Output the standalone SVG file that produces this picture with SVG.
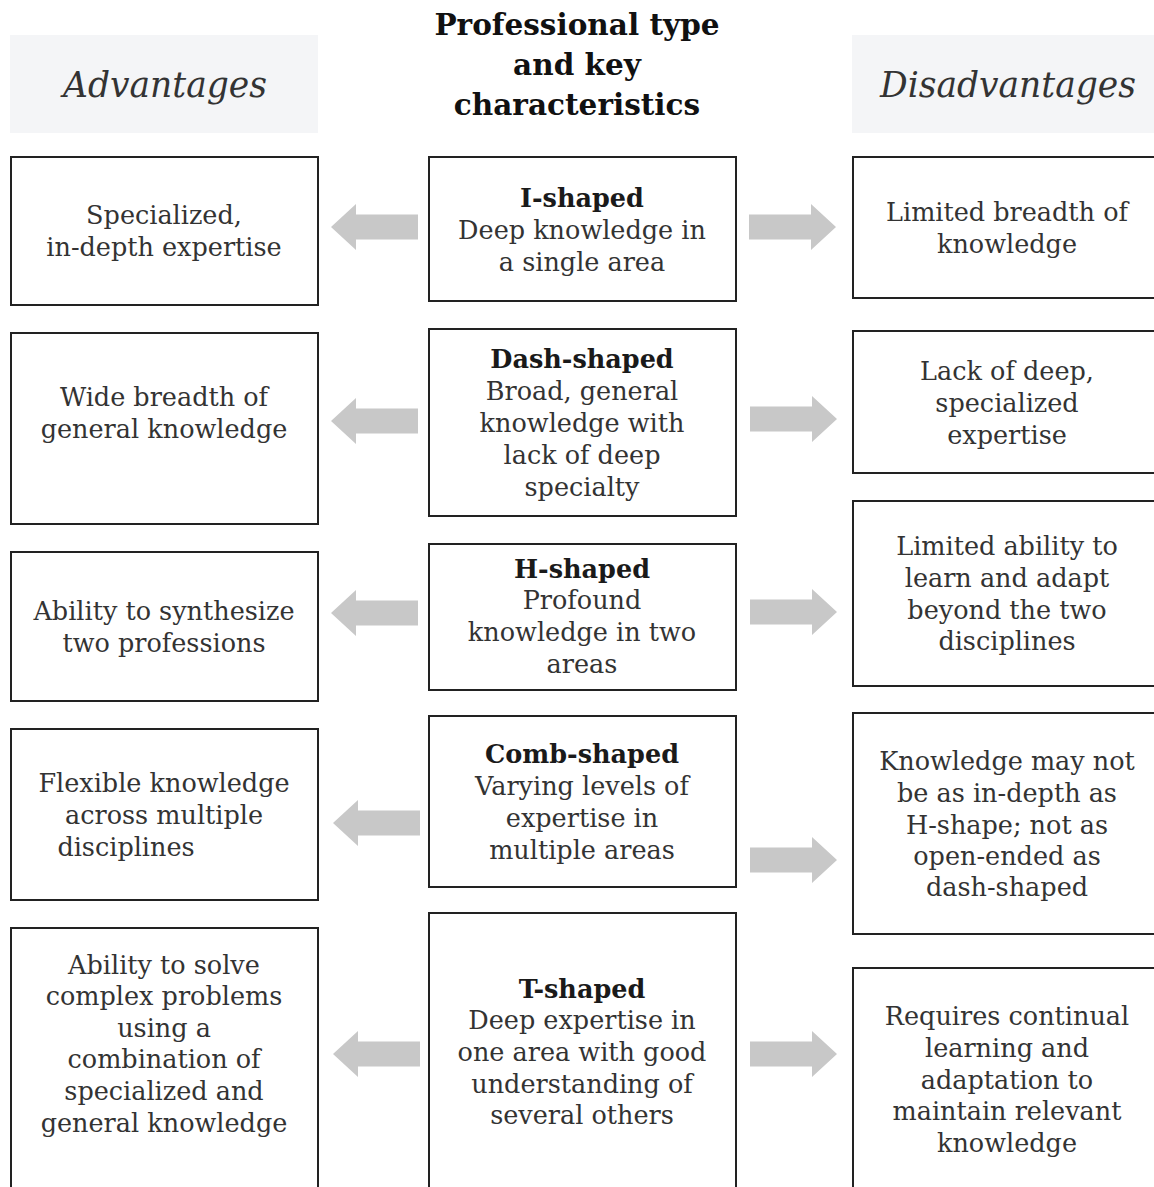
<svg xmlns="http://www.w3.org/2000/svg" width="1154" height="1187" viewBox="0 0 1154 1187">
<style>
.box{fill:#fff;stroke:#222;stroke-width:2}
.hdr{fill:#f4f5f7}
text{font-family:"DejaVu Serif","Liberation Serif",serif;font-size:25.5px;fill:#333;text-anchor:middle}
.b{font-weight:bold;fill:#1a1a1a}
.h{font-style:italic;font-size:34.5px;fill:#333}
.t{font-weight:bold;font-size:29.5px;fill:#111}
.arr{fill:#c8c8c8}
</style>
<defs>
<path id="la" d="M0,0 L25,-23 L25,-12.5 L87,-12.5 L87,12.5 L25,12.5 L25,23 Z"/>
</defs>
<rect width="1154" height="1187" fill="#fff"/>
<g id="title">
<text class="t" x="577" y="35">Professional type</text>
<text class="t" x="577" y="75">and key</text>
<text class="t" x="577" y="115">characteristics</text>
</g>
<g id="hdr-adv"><rect class="hdr" x="10" y="35" width="308" height="98"/><text class="h" x="165" y="97">Advantages</text></g>
<g id="hdr-dis"><rect class="hdr" x="852" y="35" width="310" height="98"/><text class="h" x="1008" y="97">Disadvantages</text></g>

<g id="adv1"><rect class="box" x="11" y="157" width="307" height="148"/>
<text x="164" y="224">Specialized,</text><text x="164" y="256">in-depth expertise</text></g>
<g id="adv2"><rect class="box" x="11" y="333" width="307" height="191"/>
<text x="164" y="406">Wide breadth of</text><text x="164" y="438">general knowledge</text></g>
<g id="adv3"><rect class="box" x="11" y="552" width="307" height="149"/>
<text x="164" y="620">Ability to synthesize</text><text x="164" y="652">two professions</text></g>
<g id="adv4"><rect class="box" x="11" y="729" width="307" height="171"/>
<text x="164" y="792">Flexible knowledge</text><text x="164" y="824">across multiple</text><text x="126" y="856">disciplines</text></g>
<g id="adv5"><rect class="box" x="11" y="928" width="307" height="270"/>
<text x="164" y="974">Ability to solve</text><text x="164" y="1005">complex problems</text><text x="164" y="1037">using a</text><text x="164" y="1068">combination of</text><text x="164" y="1100">specialized and</text><text x="164" y="1132">general knowledge</text></g>

<g id="type1"><rect class="box" x="429" y="157" width="307" height="144"/>
<text class="b" x="582" y="207">I-shaped</text><text x="582" y="239">Deep knowledge in</text><text x="582" y="271">a single area</text></g>
<g id="type2"><rect class="box" x="429" y="329" width="307" height="187"/>
<text class="b" x="582" y="368">Dash-shaped</text><text x="582" y="400">Broad, general</text><text x="582" y="432">knowledge with</text><text x="582" y="464">lack of deep</text><text x="582" y="496">specialty</text></g>
<g id="type3"><rect class="box" x="429" y="544" width="307" height="146"/>
<text class="b" x="582" y="578">H-shaped</text><text x="582" y="609">Profound</text><text x="582" y="641">knowledge in two</text><text x="582" y="673">areas</text></g>
<g id="type4"><rect class="box" x="429" y="716" width="307" height="171"/>
<text class="b" x="582" y="763">Comb-shaped</text><text x="582" y="795">Varying levels of</text><text x="582" y="827">expertise in</text><text x="582" y="859">multiple areas</text></g>
<g id="type5"><rect class="box" x="429" y="913" width="307" height="285"/>
<text class="b" x="582" y="998">T-shaped</text><text x="582" y="1029">Deep expertise in</text><text x="582" y="1061">one area with good</text><text x="582" y="1093">understanding of</text><text x="582" y="1124">several others</text></g>

<g id="dis1"><rect class="box" x="853" y="157" width="310" height="141"/>
<text x="1007" y="221">Limited breadth of</text><text x="1007" y="253">knowledge</text></g>
<g id="dis2"><rect class="box" x="853" y="331" width="310" height="142"/>
<text x="1007" y="380">Lack of deep,</text><text x="1007" y="412">specialized</text><text x="1007" y="444">expertise</text></g>
<g id="dis3"><rect class="box" x="853" y="501" width="310" height="185"/>
<text x="1007" y="555">Limited ability to</text><text x="1007" y="587">learn and adapt</text><text x="1007" y="619">beyond the two</text><text x="1007" y="650">disciplines</text></g>
<g id="dis4"><rect class="box" x="853" y="713" width="310" height="221"/>
<text x="1007" y="770">Knowledge may not</text><text x="1007" y="802">be as in-depth as</text><text x="1007" y="834">H-shape; not as</text><text x="1007" y="865">open-ended as</text><text x="1007" y="896">dash-shaped</text></g>
<g id="dis5"><rect class="box" x="853" y="968" width="310" height="230"/>
<text x="1007" y="1025">Requires continual</text><text x="1007" y="1057">learning and</text><text x="1007" y="1089">adaptation to</text><text x="1007" y="1120">maintain relevant</text><text x="1007" y="1152">knowledge</text></g>

<g id="connectors" class="arr">
<use href="#la" transform="translate(331,227)"/>
<use href="#la" transform="translate(836,227) scale(-1,1)"/>
<use href="#la" transform="translate(331,421)"/>
<use href="#la" transform="translate(837,419) scale(-1,1)"/>
<use href="#la" transform="translate(331,613)"/>
<use href="#la" transform="translate(837,612) scale(-1,1)"/>
<use href="#la" transform="translate(333,823)"/>
<use href="#la" transform="translate(837,860) scale(-1,1)"/>
<use href="#la" transform="translate(333,1054)"/>
<use href="#la" transform="translate(837,1054) scale(-1,1)"/>
</g>
</svg>
